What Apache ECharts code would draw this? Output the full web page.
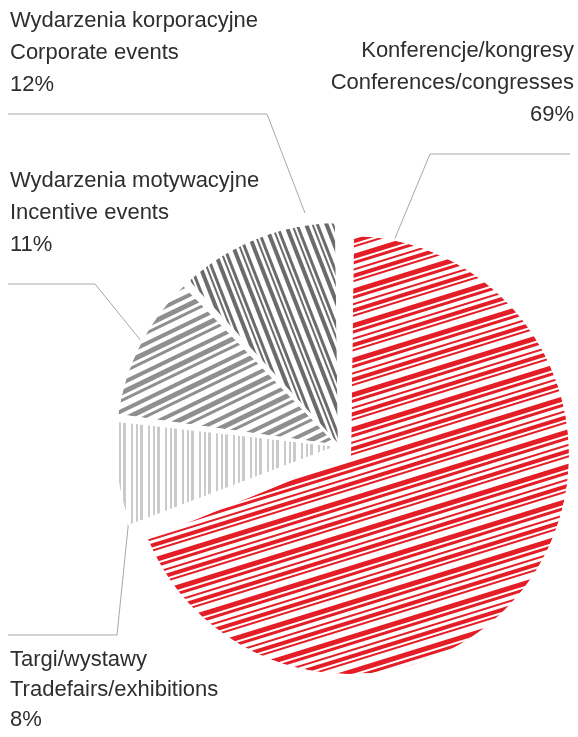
<!DOCTYPE html>
<html>
<head>
<meta charset="utf-8">
<script src="https://cdn.jsdelivr.net/npm/echarts@6/dist/echarts.min.js"></script>
<style>
html,body{margin:0;padding:0;background:#fff;}
#chart{width:578px;height:737px;}
</style>
</head>
<body>
<div id="chart"></div>
<script>
// ---- data ----
const namesPL = ['Konferencje/kongresy', 'Targi/wystawy', 'Wydarzenia motywacyjne', 'Wydarzenia korporacyjne'];
const namesEN = ['Conferences/congresses', 'Tradefairs/exhibitions', 'Incentive events', 'Corporate events'];
const shares = [69, 8, 11, 12];

// ---- styles ----
const sliceColors = ['#e41e26', '#c9cacc', '#8e8f91', '#6a6b6d'];
const stripeAngles = [-0.3, Math.PI / 2, -0.45, 1.2];
const stripeDash = [
  [3, 4, 2, 2, 6, 5, 2, 3, 4, 2],
  [3, 2, 5, 3, 2, 2],
  [4, 5, 3, 3, 6, 4],
  [3, 4, 5, 3, 2, 2]
];

// label layout: [x, y, align, lineHeight, leader points]
const labelPos = [
  [574, 35, 'right', 32, [[393, 243], [430, 154], [570, 154]]],
  [10, 645, 'left', 30, [[130, 508], [117, 635], [8, 635]]],
  [10, 165, 'left', 32, [[142, 342], [95, 284], [8, 284]]],
  [10, 5, 'left', 32, [[305, 213], [267, 114], [8, 114]]]
];

const chart = echarts.init(document.getElementById('chart'), null, {renderer: 'canvas'});

// two layers: the red slice sits slightly apart from the grey ones
function buildData(showRed) {
  return shares.map((v, i) => {
    const visible = (i === 0) === showRed;
    return {
      name: namesPL[i],
      value: v,
      itemStyle: visible ? {
        color: sliceColors[i],
        borderColor: '#fff',
        borderWidth: 2,
        decal: {
          symbol: 'rect',
          symbolSize: 1,
          color: '#ffffff',
          dashArrayX: [1, 0],
          dashArrayY: stripeDash[i],
          rotation: stripeAngles[i]
        }
      } : {color: 'rgba(0,0,0,0)', borderWidth: 0},
      label: {show: visible, lineHeight: labelPos[i][3]},
      labelLine: {show: visible}
    };
  });
}

const common = {
  type: 'pie',
  startAngle: 90,
  clockwise: true,
  padAngle: 1.5,
  avoidLabelOverlap: false,
  silent: true,
  label: {
    position: 'outer',
    fontFamily: 'Liberation Sans',
    fontSize: 22,
    color: '#2e2e2e',
    formatter: p => namesPL[p.dataIndex] + '\n' + namesEN[p.dataIndex] + '\n' + shares[p.dataIndex] + '%'
  },
  labelLine: {
    smooth: false,
    lineStyle: {color: '#a8a8a8', width: 1}
  },
  emphasis: {disabled: true},
  labelLayout: function (params) {
    const L = labelPos[params.dataIndex];
    return {
      x: L[0],
      y: L[1],
      align: L[2],
      verticalAlign: 'top',
      labelLinePoints: L[4]
    };
  }
};

chart.setOption({
  backgroundColor: '#ffffff',
  animation: false,
  series: [
    Object.assign({}, common, {center: [350, 455], radius: 220, data: buildData(true)}),
    Object.assign({}, common, {center: [339, 446], radius: 224, data: buildData(false)})
  ]
});
</script>
</body>
</html>
